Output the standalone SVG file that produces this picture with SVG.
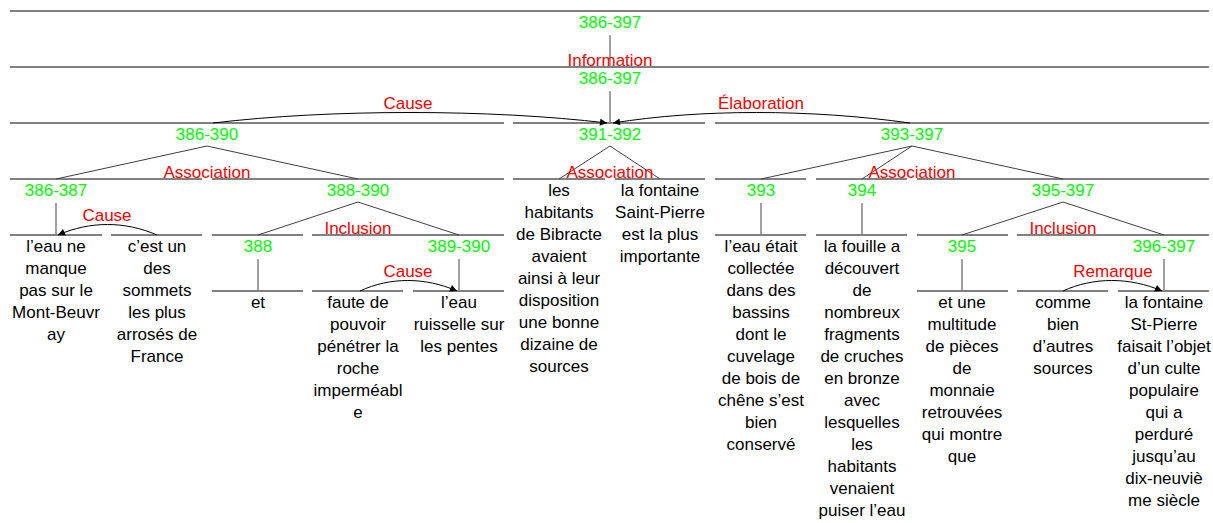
<svg xmlns="http://www.w3.org/2000/svg" width="1213" height="523" viewBox="0 0 1213 523">
<style>
text{font-family:"Liberation Sans",Arial,sans-serif;font-size:17px;text-anchor:middle}
.span{fill:#00ff00}
.rel{fill:#ff0000}
.txt{fill:#000000}
.bar{stroke:#808080;stroke-width:2;fill:none}
.vert{stroke:#808080;stroke-width:1.5;fill:none}
.diag{stroke:#404040;stroke-width:1;fill:none}
.arc{stroke:#000000;stroke-width:1;fill:none;marker-end:url(#ah)}
</style>
<defs>
<marker id="ah" viewBox="0 0 10 10" refX="10" refY="5" markerWidth="9" markerHeight="7" markerUnits="userSpaceOnUse" orient="auto">
<path d="M0,0 L10,5 L0,10 z" fill="#000"/>
</marker>
</defs>
<rect width="1213" height="523" fill="#ffffff"/>

<g id="n386-397-top">
<line class="bar" x1="10" y1="11" x2="1209" y2="11"/>
<text class="span" x="610" y="28">386-397</text>
</g>
<g id="n386-397">
<line class="bar" x1="10" y1="67" x2="1209" y2="67"/>
<text class="span" x="610" y="84">386-397</text>
</g>
<g id="n386-390">
<line class="bar" x1="10" y1="123" x2="504" y2="123"/>
<text class="span" x="207" y="140">386-390</text>
</g>
<g id="n391-392">
<line class="bar" x1="513" y1="123" x2="705" y2="123"/>
<text class="span" x="610" y="140">391-392</text>
</g>
<g id="n393-397">
<line class="bar" x1="715" y1="123" x2="1209" y2="123"/>
<text class="span" x="912" y="140">393-397</text>
</g>
<g id="n386-387">
<line class="bar" x1="10" y1="179" x2="202" y2="179"/>
<text class="span" x="56" y="196">386-387</text>
</g>
<g id="n388-390">
<line class="bar" x1="212" y1="179" x2="504" y2="179"/>
<text class="span" x="358" y="196">388-390</text>
</g>
<g id="n391">
<line class="bar" x1="513" y1="179" x2="605" y2="179"/>
<text class="txt" x="559" y="196"><tspan x="559">les</tspan><tspan x="559" dy="22">habitants</tspan><tspan x="559" dy="22">de Bibracte</tspan><tspan x="559" dy="22">avaient</tspan><tspan x="559" dy="22">ainsi à leur</tspan><tspan x="559" dy="22">disposition</tspan><tspan x="559" dy="22">une bonne</tspan><tspan x="559" dy="22">dizaine de</tspan><tspan x="559" dy="22">sources</tspan></text>
</g>
<g id="n392">
<line class="bar" x1="615" y1="179" x2="705" y2="179"/>
<text class="txt" x="660" y="196"><tspan x="660">la fontaine</tspan><tspan x="660" dy="22">Saint-Pierre</tspan><tspan x="660" dy="22">est la plus</tspan><tspan x="660" dy="22">importante</tspan></text>
</g>
<g id="n393">
<line class="bar" x1="715" y1="179" x2="806" y2="179"/>
<text class="span" x="761" y="196">393</text>
<line class="bar" x1="715" y1="235" x2="806" y2="235"/>
<text class="txt" x="761" y="252"><tspan x="761">l’eau était</tspan><tspan x="761" dy="22">collectée</tspan><tspan x="761" dy="22">dans des</tspan><tspan x="761" dy="22">bassins</tspan><tspan x="761" dy="22">dont le</tspan><tspan x="761" dy="22">cuvelage</tspan><tspan x="761" dy="22">de bois de</tspan><tspan x="761" dy="22">chêne s’est</tspan><tspan x="761" dy="22">bien</tspan><tspan x="761" dy="22">conservé</tspan></text>
</g>
<g id="n394">
<line class="bar" x1="816" y1="179" x2="907" y2="179"/>
<text class="span" x="862" y="196">394</text>
<line class="bar" x1="816" y1="235" x2="907" y2="235"/>
<text class="txt" x="862" y="252"><tspan x="862">la fouille a</tspan><tspan x="862" dy="22">découvert</tspan><tspan x="862" dy="22">de</tspan><tspan x="862" dy="22">nombreux</tspan><tspan x="862" dy="22">fragments</tspan><tspan x="862" dy="22">de cruches</tspan><tspan x="862" dy="22">en bronze</tspan><tspan x="862" dy="22">avec</tspan><tspan x="862" dy="22">lesquelles</tspan><tspan x="862" dy="22">les</tspan><tspan x="862" dy="22">habitants</tspan><tspan x="862" dy="22">venaient</tspan><tspan x="862" dy="22">puiser l’eau</tspan></text>
</g>
<g id="n395-397">
<line class="bar" x1="917" y1="179" x2="1209" y2="179"/>
<text class="span" x="1063" y="196">395-397</text>
</g>
<g id="n386">
<line class="bar" x1="10" y1="235" x2="102" y2="235"/>
<text class="txt" x="56" y="252"><tspan x="56">l’eau ne</tspan><tspan x="56" dy="22">manque</tspan><tspan x="56" dy="22">pas sur le</tspan><tspan x="56" dy="22">Mont-Beuvr</tspan><tspan x="56" dy="22">ay</tspan></text>
</g>
<g id="n387">
<line class="bar" x1="111" y1="235" x2="202" y2="235"/>
<text class="txt" x="157" y="252"><tspan x="157">c’est un</tspan><tspan x="157" dy="22">des</tspan><tspan x="157" dy="22">sommets</tspan><tspan x="157" dy="22">les plus</tspan><tspan x="157" dy="22">arrosés de</tspan><tspan x="157" dy="22">France</tspan></text>
</g>
<g id="n388">
<line class="bar" x1="212" y1="235" x2="303" y2="235"/>
<text class="span" x="258" y="252">388</text>
<line class="bar" x1="212" y1="291" x2="303" y2="291"/>
<text class="txt" x="258" y="308">et</text>
</g>
<g id="n389-390">
<line class="bar" x1="312" y1="235" x2="504" y2="235"/>
<text class="span" x="459" y="252">389-390</text>
</g>
<g id="n389">
<line class="bar" x1="312" y1="291" x2="403" y2="291"/>
<text class="txt" x="358" y="308"><tspan x="358">faute de</tspan><tspan x="358" dy="22">pouvoir</tspan><tspan x="358" dy="22">pénétrer la</tspan><tspan x="358" dy="22">roche</tspan><tspan x="358" dy="22">imperméabl</tspan><tspan x="358" dy="22">e</tspan></text>
</g>
<g id="n390">
<line class="bar" x1="413" y1="291" x2="504" y2="291"/>
<text class="txt" x="459" y="308"><tspan x="459">l’eau</tspan><tspan x="459" dy="22">ruisselle sur</tspan><tspan x="459" dy="22">les pentes</tspan></text>
</g>
<g id="n395">
<line class="bar" x1="917" y1="235" x2="1008" y2="235"/>
<text class="span" x="962" y="252">395</text>
<line class="bar" x1="917" y1="291" x2="1008" y2="291"/>
<text class="txt" x="962" y="308"><tspan x="962">et une</tspan><tspan x="962" dy="22">multitude</tspan><tspan x="962" dy="22">de pièces</tspan><tspan x="962" dy="22">de</tspan><tspan x="962" dy="22">monnaie</tspan><tspan x="962" dy="22">retrouvées</tspan><tspan x="962" dy="22">qui montre</tspan><tspan x="962" dy="22">que</tspan></text>
</g>
<g id="n396-397">
<line class="bar" x1="1017" y1="235" x2="1209" y2="235"/>
<text class="span" x="1164" y="252">396-397</text>
</g>
<g id="n396">
<line class="bar" x1="1017" y1="291" x2="1108" y2="291"/>
<text class="txt" x="1063" y="308"><tspan x="1063">comme</tspan><tspan x="1063" dy="22">bien</tspan><tspan x="1063" dy="22">d’autres</tspan><tspan x="1063" dy="22">sources</tspan></text>
</g>
<g id="n397">
<line class="bar" x1="1118" y1="291" x2="1209" y2="291"/>
<text class="txt" x="1164" y="308"><tspan x="1164">la fontaine</tspan><tspan x="1164" dy="22">St-Pierre</tspan><tspan x="1164" dy="22">faisait l’objet</tspan><tspan x="1164" dy="22">d’un culte</tspan><tspan x="1164" dy="22">populaire</tspan><tspan x="1164" dy="22">qui a</tspan><tspan x="1164" dy="22">perduré</tspan><tspan x="1164" dy="22">jusqu’au</tspan><tspan x="1164" dy="22">dix-neuviè</tspan><tspan x="1164" dy="22">me siècle</tspan></text>
</g>

<g id="connectors">
<!-- verticals -->
<line class="vert" x1="610" y1="35" x2="610" y2="67"/>
<line class="vert" x1="610" y1="91" x2="610" y2="123"/>
<line class="vert" x1="56" y1="203" x2="56" y2="235"/>
<line class="vert" x1="761" y1="203" x2="761" y2="235"/>
<line class="vert" x1="862" y1="203" x2="862" y2="235"/>
<line class="vert" x1="258" y1="259" x2="258" y2="291"/>
<line class="vert" x1="459" y1="259" x2="459" y2="291"/>
<line class="vert" x1="962" y1="259" x2="962" y2="291"/>
<line class="vert" x1="1164" y1="259" x2="1164" y2="291"/>
<!-- multinuclear -->
<polyline class="diag" points="56,179 207,146 358,179"/>
<polyline class="diag" points="559,179 610,146 660,179"/>
<polyline class="diag" points="761,179 912,146 1063,179"/>
<line class="diag" x1="912" y1="146" x2="862" y2="179"/>
<polyline class="diag" points="258,235 358,202 459,235"/>
<polyline class="diag" points="962,235 1063,202 1164,235"/>
<!-- arcs -->
<path class="arc" d="M213,123 C330,109 490,109 607,123"/>
<path class="arc" d="M910,123 C810,109 700,109 613,123"/>
<path class="arc" d="M157,235 C125,221 90,221 58,235"/>
<path class="arc" d="M360,291 C390,277 425,277 457,291"/>
<path class="arc" d="M1063,291 C1093,277 1130,277 1162,291"/>
<!-- relation labels -->
<text class="rel" x="610" y="66">Information</text>
<text class="rel" x="408" y="109">Cause</text>
<text class="rel" x="761" y="109">Élaboration</text>
<text class="rel" x="207" y="178">Association</text>
<text class="rel" x="610" y="178">Association</text>
<text class="rel" x="912" y="178">Association</text>
<text class="rel" x="107" y="221">Cause</text>
<text class="rel" x="358" y="234">Inclusion</text>
<text class="rel" x="1063" y="234">Inclusion</text>
<text class="rel" x="408" y="277">Cause</text>
<text class="rel" x="1113" y="277">Remarque</text>
</g>
</svg>
